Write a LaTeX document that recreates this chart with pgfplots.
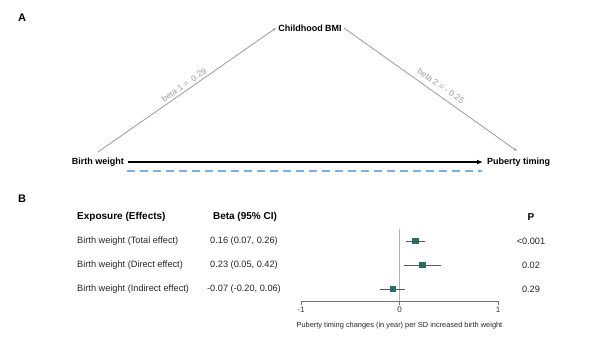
\documentclass[border=0pt]{standalone}
\usepackage{fontspec}
\setmainfont{Liberation Sans}
\usepackage{pgfplots}
\usepackage{pgfplotstable}
\pgfplotsset{compat=1.18}
\usetikzlibrary{arrows.meta}
\definecolor{fpteal}{HTML}{2E6B66}
\definecolor{arrgray}{HTML}{9A9A9A}
\definecolor{dashblue}{HTML}{7AAEE8}
\pgfplotstableread{
y b lo hi
3 0.16 0.07 0.26
2 0.23 0.05 0.42
1 -0.07 -0.20 0.06
}\fpdata
\begin{document}
\begin{tikzpicture}
\begin{axis}[name=canvas, at={(0,0)}, anchor=south west, scale only axis,
  width=600pt, height=338pt, xmin=0, xmax=600, ymin=0, ymax=338, y dir=reverse,
  hide axis, clip=false]
% diagram
\addplot[arrgray, line width=0.8pt, -{Stealth[length=4pt,width=3pt]}] coordinates {(98,152) (276,28)};
\addplot[arrgray, line width=0.8pt, -{Stealth[length=4pt,width=3pt]}] coordinates {(344,28) (517,151)};
\addplot[black, line width=1.6pt, -{Latex[length=6pt,width=5pt]}] coordinates {(128,162) (483,162)};
\addplot[dashblue, line width=1.2pt, dash pattern=on 8pt off 5pt, -{Latex[length=5pt,width=3.5pt]}] coordinates {(127,171) (484,171)};
\node[font=\bfseries\fontsize{11}{12}\selectfont] at (axis cs:22,18) {A};
\node[font=\bfseries\fontsize{11}{12}\selectfont] at (axis cs:22,199) {B};
\node[font=\bfseries\fontsize{9}{10}\selectfont, anchor=east, inner sep=1pt] at (axis cs:125,162) {Birth weight};
\node[font=\bfseries\fontsize{9}{10}\selectfont, anchor=west, inner sep=1pt] at (axis cs:486,162) {Puberty timing};
\node[font=\bfseries\fontsize{9}{10}\selectfont, inner sep=1pt] at (axis cs:310,28) {Childhood BMI};
\node[font=\fontsize{8.5}{9}\selectfont, text=arrgray, rotate=34.8, inner sep=0pt] at (axis cs:184,85) {beta 1 =~ 0.29};
\node[font=\fontsize{8.5}{9}\selectfont, text=arrgray, rotate=-35.4, inner sep=0pt] at (axis cs:441,86) {beta 2 = - 0.25};
% table
\node[font=\bfseries\fontsize{10}{11}\selectfont, anchor=west, inner sep=0pt] at (axis cs:77,217) {Exposure (Effects)};
\node[font=\bfseries\fontsize{10}{11}\selectfont, inner sep=0pt] at (axis cs:245,217) {Beta (95\% CI)};
\node[font=\bfseries\fontsize{10}{11}\selectfont, inner sep=0pt] at (axis cs:531,217) {P};
\node[font=\fontsize{9.2}{10}\selectfont, text=black!85, anchor=west, inner sep=0pt] at (axis cs:77,241) {Birth weight (Total effect)};
\node[font=\fontsize{9.2}{10}\selectfont, text=black!85, anchor=west, inner sep=0pt] at (axis cs:77,265) {Birth weight (Direct effect)};
\node[font=\fontsize{9.2}{10}\selectfont, text=black!85, anchor=west, inner sep=0pt] at (axis cs:77,289) {Birth weight (Indirect effect)};
\node[font=\fontsize{9.2}{10}\selectfont, text=black!85, inner sep=0pt] at (axis cs:244,241) {0.16 (0.07, 0.26)};
\node[font=\fontsize{9.2}{10}\selectfont, text=black!85, inner sep=0pt] at (axis cs:244,265) {0.23 (0.05, 0.42)};
\node[font=\fontsize{9.2}{10}\selectfont, text=black!85, inner sep=0pt] at (axis cs:244,289) {-0.07 (-0.20, 0.06)};
\node[font=\fontsize{9.2}{10}\selectfont, text=black!85, inner sep=0pt] at (axis cs:531,241) {<0.001};
\node[font=\fontsize{9.2}{10}\selectfont, text=black!85, inner sep=0pt] at (axis cs:531,265) {0.02};
\node[font=\fontsize{9.2}{10}\selectfont, text=black!85, inner sep=0pt] at (axis cs:531,289) {0.29};
\coordinate (fpO) at (axis cs:301,301);
\end{axis}
\begin{axis}[at={(fpO)}, anchor=south west, scale only axis,
  width=197pt, height=72pt, xmin=-1, xmax=1, ymin=0.5, ymax=3.5,
  axis x line*=bottom, axis y line=none, x axis line style={draw=black!55, line width=0.6pt},
  xtick={-1,0,1}, tick align=outside, major tick length=4pt,
  xtick style={draw=black!55, line width=0.6pt},
  /pgf/number format/assume math mode=true,
  tick label style={font=\fontsize{8}{9}\selectfont, text=black!80},
  xticklabel style={inner sep=2pt},
  xlabel={Puberty timing changes (in year) per SD increased birth weight},
  xlabel style={font=\fontsize{7.4}{8}\selectfont, text=black!85,
    at={(axis description cs:0.5,0)}, anchor=center, yshift=-25pt},
  clip=false]
\addplot[black!30, line width=0.8pt] coordinates {(0,0.5) (0,3.5)};
\addplot[only marks, mark=square*, mark size=2.6pt, mark options={fill=fpteal, draw=fpteal},
  error bars/.cd, x dir=both, x explicit, error mark=none,
  error bar style={black!65, line width=0.6pt}]
  table[x=b, y=y, x error minus expr=\thisrow{b}-\thisrow{lo}, x error plus expr=\thisrow{hi}-\thisrow{b}] {\fpdata};
\end{axis}
\pgfresetboundingbox
\path[use as bounding box] (0,0) rectangle (600pt,338pt);
\end{tikzpicture}
\end{document}
